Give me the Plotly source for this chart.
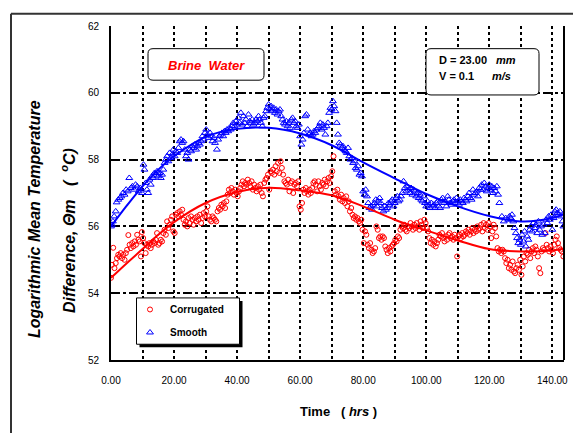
import plotly.graph_objects as go

# ---------------- data ----------------
smooth_x = [0.0, 0.3, 0.6, 1.0, 1.5, 1.8, 2.3, 2.8, 3.3, 3.8, 4.3, 4.8, 5.3, 5.8, 6.3, 6.8, 7.3, 7.8, 8.3, 8.8,
            9.3, 9.8, 10.3, 10.6, 11.0, 11.4, 11.8, 12.2, 12.6, 13.0, 13.4, 13.8, 14.2, 14.6, 15.0, 15.4, 15.8, 16.2,
            16.6, 17.0, 17.4, 17.8, 18.2, 18.6, 19.0, 19.4, 19.8, 20.2, 20.6, 21.0, 21.4, 21.8, 22.2, 22.6, 23.0,
            23.4, 23.8, 24.2, 24.6, 25.0, 25.4, 25.8, 26.2, 26.6, 27.0, 27.4, 27.8, 28.2, 28.6, 29.0, 29.4, 29.8,
            30.2, 30.6, 31.0, 31.4, 31.8, 32.2, 32.6, 33.0, 33.6, 34.0, 34.4, 34.8, 35.2, 35.6, 36.0, 36.4, 36.8,
            37.2, 37.6, 38.0, 38.4, 38.8, 39.2, 39.6, 40.0, 40.4, 40.8, 41.2, 41.6, 42.0, 42.4, 42.8, 43.2, 43.6,
            44.0, 44.4, 44.8, 45.2, 45.6, 46.0, 46.4, 46.8, 47.2, 47.6, 48.0, 48.4, 48.8, 49.2, 49.6, 50.0, 50.4,
            50.8, 51.2, 51.6, 52.0, 52.4, 52.8, 53.2, 53.6, 54.0, 54.4, 54.8, 55.2, 55.6, 56.0, 56.4, 56.8, 57.2,
            57.6, 58.0, 58.4, 58.8, 59.2, 59.6, 60.0, 60.4, 60.8, 61.2, 61.6, 62.0, 62.4, 62.8, 63.2, 63.6, 64.0,
            64.4, 64.8, 65.2, 65.6, 66.0, 66.4, 66.8, 67.2, 67.6, 68.0, 68.4, 68.8, 69.2, 69.6, 70.0, 70.4, 70.8,
            71.2, 71.6, 72.0, 72.4, 72.8, 73.2, 73.6, 74.0, 74.4, 74.8, 75.2, 75.6, 76.0, 76.4, 76.8, 77.2, 77.6,
            78.0, 78.4, 78.8, 79.2, 79.6, 80.0, 80.4, 80.8, 81.2, 81.6, 82.0, 82.4, 82.8, 83.2, 83.6, 84.0, 84.4,
            84.8, 85.2, 85.6, 86.0, 86.4, 86.8, 87.2, 87.6, 88.0, 88.4, 88.8, 89.2, 89.6, 90.0, 90.4, 90.8, 91.2,
            91.6, 92.0, 92.4, 92.8, 93.2, 93.6, 94.0, 94.4, 94.8, 95.2, 95.6, 96.0, 96.4, 96.8, 97.2, 97.6, 98.0,
            98.4, 98.8, 99.2, 99.6, 100.0, 100.4, 100.8, 101.2, 101.6, 102.0, 102.4, 102.8, 103.2, 103.6, 104.0,
            104.4, 104.8, 105.2, 105.6, 106.0, 106.4, 106.8, 107.2, 107.6, 108.0, 108.4, 108.8, 109.2, 109.6,
            110.0, 110.4, 110.8, 111.2, 111.6, 112.0, 112.4, 112.8, 113.2, 113.6, 114.0, 114.4, 114.8, 115.2,
            115.6, 116.0, 116.4, 116.8, 117.2, 117.6, 118.0, 118.4, 118.8, 119.2, 119.6, 120.0, 120.4, 120.8,
            121.2, 121.6, 122.0, 122.4, 122.8, 123.2, 124.0, 124.6, 125.2, 126.0, 126.4, 126.8, 127.2, 127.6,
            128.0, 128.4, 128.8, 129.2, 129.6, 130.0, 130.4, 130.8, 131.2, 131.6, 132.0, 132.4, 132.8, 133.2,
            133.6, 134.0, 134.4, 134.8, 135.2, 135.6, 136.0, 136.4, 136.8, 137.2, 137.6, 138.0, 138.4, 138.8,
            139.2, 139.6, 140.0, 140.4, 140.8, 141.2, 141.6, 142.0, 142.4, 142.8, 143.2, 143.5]
smooth_y = [56.0, 56.05, 56.15, 56.3, 56.45, 56.72, 56.8, 56.85, 56.9, 57.0, 56.95, 57.1, 57.05, 57.45, 57.15,
            57.2, 57.1, 57.25, 57.2, 57.05, 57.15, 57.0, 57.85, 57.7, 57.3, 57.1, 57.0, 57.4, 57.25, 57.5, 57.45,
            57.6, 57.55, 57.65, 57.5, 57.6, 57.45, 57.55, 57.7, 57.9, 58.0, 58.1, 57.95, 58.2, 58.05, 58.15, 58.3,
            58.1, 58.25, 58.2, 58.35, 58.55, 58.6, 58.5, 58.55, 58.3, 58.1, 58.2, 58.0, 58.3, 58.25, 58.4, 58.35,
            58.45, 58.3, 58.4, 58.5, 58.45, 58.55, 58.7, 58.6, 58.8, 58.9, 58.75, 58.65, 58.8, 58.7, 58.55, 58.65,
            58.5, 58.3, 58.6, 58.7, 58.75, 58.8, 58.7, 58.85, 58.8, 58.9, 58.85, 58.95, 58.9, 59.0, 59.1, 59.0,
            59.15, 59.05, 59.25, 59.1, 59.4, 59.05, 59.3, 59.1, 59.2, 59.0, 59.35, 59.15, 59.1, 59.2, 59.05, 59.1,
            59.2, 59.15, 59.3, 59.2, 59.1, 59.0, 59.25, 59.3, 59.45, 59.55, 59.65, 59.5, 59.6, 59.45, 59.55, 59.4,
            59.5, 59.35, 59.45, 59.5, 59.3, 59.2, 59.1, 59.05, 59.15, 59.0, 59.1, 58.95, 59.2, 59.25, 59.1, 59.15,
            59.0, 58.95, 59.05, 58.7, 58.45, 58.6, 58.8, 59.3, 59.35, 58.9, 58.75, 58.8, 58.7, 58.75, 58.85, 58.8,
            58.9, 58.95, 59.0, 59.1, 58.9, 59.05, 58.95, 58.75, 59.0, 59.1, 59.4, 59.55, 59.5, 59.75, 59.6, 59.45,
            59.1, 58.75, 58.5, 58.45, 58.35, 58.4, 58.3, 58.25, 58.2, 58.35, 58.1, 58.0, 58.05, 57.9, 57.95, 57.75,
            57.7, 57.8, 57.55, 57.6, 57.5, 57.05, 56.95, 57.1, 56.9, 56.7, 56.55, 56.6, 56.5, 56.65, 56.7, 56.8,
            56.6, 56.75, 56.85, 56.7, 56.55, 56.45, 56.6, 56.5, 56.55, 56.7, 56.65, 56.75, 56.8, 56.6, 56.7, 56.85,
            56.9, 56.75, 56.8, 56.9, 57.0, 57.35, 57.15, 57.05, 57.2, 57.1, 57.0, 57.15, 56.95, 57.1, 57.05, 56.9,
            57.0, 56.85, 56.95, 56.8, 56.75, 56.9, 56.7, 56.6, 56.75, 56.65, 56.55, 56.7, 56.6, 56.65, 56.55, 56.7,
            56.75, 56.6, 56.55, 56.8, 56.85, 56.7, 56.75, 56.6, 56.9, 56.8, 56.7, 56.65, 56.75, 56.8, 56.7, 56.85,
            56.75, 56.65, 56.8, 56.75, 56.7, 56.85, 56.8, 56.75, 56.9, 57.0, 56.85, 56.8, 57.1, 56.95, 57.0, 57.05,
            56.9, 57.15, 57.1, 57.25, 57.1, 57.3, 57.2, 57.05, 57.15, 57.25, 57.1, 57.2, 57.0, 57.15, 57.05, 57.2,
            56.95, 56.7, 56.3, 56.15, 56.25, 56.2, 56.3, 56.25, 56.35, 56.15, 55.95, 55.8, 55.65, 55.5, 55.6,
            55.45, 55.75, 55.55, 55.85, 55.4, 55.7, 55.6, 55.9, 56.0, 55.85, 56.1, 55.95, 56.05, 55.8, 56.15,
            55.9, 56.0, 55.75, 56.05, 55.8, 56.2, 56.1, 56.3, 56.2, 56.35, 55.9, 56.25, 56.45, 56.5, 56.4, 56.35,
            56.45, 56.3, 56.15, 56.0]

corr_x = [0.0, 0.3, 0.7, 1.1, 1.5, 1.9, 2.3, 2.7, 3.1, 3.5, 3.9, 4.3, 4.7, 5.1, 5.5, 5.9, 6.3, 6.7, 7.1, 7.5,
          7.9, 8.3, 8.7, 9.1, 9.5, 9.8, 10.2, 10.6, 11.0, 11.4, 11.8, 12.2, 12.6, 13.0, 13.4, 13.8, 14.2, 14.6,
          15.0, 15.4, 15.8, 16.2, 16.6, 17.0, 17.4, 17.8, 18.2, 18.6, 19.0, 19.4, 19.8, 20.2, 20.6, 21.0, 21.4,
          21.8, 22.2, 22.6, 23.0, 23.4, 23.8, 24.2, 24.6, 25.0, 25.4, 25.8, 26.2, 26.6, 27.0, 27.4, 27.8, 28.2,
          28.6, 29.0, 29.4, 29.8, 30.2, 30.6, 31.0, 31.4, 31.8, 32.2, 32.6, 33.0, 33.4, 33.8, 34.2, 34.6, 35.0,
          35.4, 35.8, 36.2, 36.6, 37.0, 37.4, 37.8, 38.2, 38.6, 39.0, 39.4, 39.8, 40.2, 40.6, 41.0, 41.4, 41.8,
          42.2, 42.6, 43.0, 43.4, 43.8, 44.2, 44.6, 45.0, 45.4, 45.8, 46.2, 46.6, 47.0, 47.4, 47.8, 48.2, 48.6,
          49.0, 49.4, 49.8, 50.2, 50.6, 51.0, 51.4, 51.8, 52.2, 52.6, 53.0, 53.4, 53.8, 54.2, 54.6, 55.0, 55.4,
          55.8, 56.2, 56.6, 57.0, 57.4, 57.8, 58.2, 58.6, 59.0, 59.4, 59.8, 60.2, 60.6, 61.0, 61.4, 61.8, 62.2,
          62.6, 63.0, 63.4, 63.8, 64.2, 64.6, 65.0, 65.4, 65.8, 66.2, 66.6, 67.0, 67.4, 67.8, 68.2, 68.6, 69.0,
          69.4, 69.8, 70.2, 70.6, 71.0, 71.4, 71.8, 72.2, 72.6, 73.0, 73.4, 73.8, 74.2, 74.6, 75.0, 75.4, 75.8,
          76.2, 76.6, 77.0, 77.4, 77.8, 78.2, 78.6, 79.0, 79.4, 79.8, 80.2, 80.6, 81.0, 81.4, 81.8, 82.2, 82.6,
          83.0, 83.4, 83.8, 84.2, 84.6, 85.0, 85.4, 85.8, 86.2, 86.6, 87.0, 87.4, 87.8, 88.2, 88.6, 89.0, 89.4,
          89.8, 90.2, 90.6, 91.0, 91.4, 91.8, 92.2, 92.6, 93.0, 93.4, 93.8, 94.2, 94.6, 95.0, 95.4, 95.8, 96.2,
          96.6, 97.0, 97.4, 97.8, 98.2, 98.6, 99.0, 99.4, 99.8, 100.2, 100.6, 101.0, 101.4, 101.8, 102.2, 102.6,
          103.0, 103.4, 103.8, 104.2, 104.6, 105.0, 105.4, 105.8, 106.2, 106.6, 107.0, 107.4, 107.8, 108.2,
          108.6, 109.0, 109.4, 109.8, 110.2, 110.6, 111.0, 111.4, 111.8, 112.2, 112.6, 113.0, 113.4, 113.8,
          114.2, 114.6, 115.0, 115.4, 115.8, 116.2, 116.6, 117.0, 117.4, 117.8, 118.2, 118.6, 119.0, 119.4,
          119.8, 120.2, 120.6, 121.0, 121.4, 121.8, 122.2, 122.6, 123.0, 123.4, 123.8, 124.2, 124.6, 125.0,
          125.4, 125.8, 126.2, 126.6, 127.0, 127.4, 127.8, 128.2, 128.6, 129.0, 129.4, 129.8, 130.2, 130.6,
          131.0, 131.4, 131.8, 132.2, 132.6, 133.0, 133.4, 133.8, 134.2, 134.6, 135.0, 135.4, 135.8, 136.2,
          136.6, 137.0, 137.4, 137.8, 138.2, 138.6, 139.0, 139.4, 139.8, 140.2, 140.6, 141.0, 141.4, 141.8,
          142.2, 142.6, 143.0, 143.5]
corr_y = [54.46, 54.85, 55.36, 54.75, 54.9, 55.05, 55.15, 55.1, 55.2, 55.05, 55.15, 55.0, 55.2, 55.3, 55.74,
          55.45, 55.35, 55.5, 55.4, 55.55, 55.45, 55.75, 55.6, 55.55, 55.1, 55.83, 55.65, 55.5, 55.2, 55.45, 55.4,
          55.5, 55.35, 55.45, 55.55, 55.5, 55.6, 55.8, 55.45, 55.5, 55.6, 55.55, 55.8, 55.9, 55.75, 56.15, 55.95,
          56.05, 56.2, 56.3, 55.85, 55.8, 56.35, 56.4, 56.3, 56.45, 56.35, 56.5, 56.2, 56.05, 56.15, 56.0, 56.25,
          56.1, 56.3, 56.2, 56.05, 56.25, 56.15, 56.3, 56.2, 56.35, 56.1, 56.25, 56.4, 56.3, 56.45, 56.6, 56.3,
          56.2, 56.15, 56.3, 56.25, 56.2, 56.15, 56.45, 56.55, 56.5, 56.65, 56.6, 56.7, 56.55, 56.75, 56.95, 57.1,
          57.0, 57.15, 57.05, 56.95, 57.1, 57.0, 56.9, 57.05, 57.15, 57.25, 57.35, 57.2, 57.3, 57.25, 57.4, 57.3,
          57.2, 57.35, 57.1, 57.25, 57.15, 57.05, 57.2, 57.1, 57.25, 57.0, 56.9, 57.3, 57.4, 57.45, 57.55, 57.1,
          57.65, 57.6, 57.7, 57.55, 57.8, 57.65, 57.9, 57.6, 57.95, 57.75, 57.55, 57.35, 57.3, 57.25, 57.4, 57.05,
          57.3, 57.35, 57.0, 57.25, 57.3, 57.2, 57.35, 56.6, 56.5, 56.7, 57.1, 57.0, 57.15, 57.05, 56.95, 57.1,
          57.0, 57.15, 57.3, 57.35, 57.25, 57.05, 57.35, 57.2, 57.1, 57.3, 57.25, 57.4, 57.2, 57.35, 57.45, 57.3,
          57.5, 57.65, 58.1, 57.05, 56.95, 57.1, 56.9, 56.8, 56.95, 56.75, 56.85, 56.7, 56.9, 56.6, 56.75, 56.45,
          56.55, 56.35, 56.25, 56.3, 56.2, 56.25, 56.15, 56.1, 56.2, 55.9, 55.5, 55.85, 55.75, 55.45, 55.35,
          55.5, 55.3, 55.2, 55.25, 55.35, 56.0, 55.9, 55.65, 55.7, 55.6, 55.7, 55.65, 55.4, 55.3, 55.2, 55.35,
          55.25, 55.4, 55.45, 55.5, 55.6, 55.55, 55.7, 55.65, 55.9, 56.0, 55.95, 56.05, 55.9, 55.85, 56.0, 55.95,
          56.1, 56.0, 55.9, 56.05, 55.95, 56.1, 56.0, 55.9, 56.15, 56.05, 55.95, 56.2, 56.1, 55.95, 55.85, 55.65,
          55.5, 55.6, 55.45, 55.55, 55.4, 55.5, 55.6, 55.75, 55.7, 55.8, 55.65, 55.55, 55.7, 55.6, 55.75, 55.8,
          55.65, 55.7, 55.6, 55.75, 55.65, 55.1, 55.7, 55.75, 55.65, 55.8, 55.7, 55.75, 55.85, 55.8, 55.9, 55.75,
          55.85, 55.95, 55.8, 55.9, 55.85, 56.0, 55.9, 55.95, 56.05, 55.85, 56.1, 55.95, 56.05, 55.9, 56.1, 56.0,
          55.65, 55.85, 56.05, 55.95, 55.7, 55.35, 55.25, 55.3, 55.2, 55.3, 55.25, 55.05, 54.9, 55.0, 54.75,
          54.85, 54.7, 54.95, 54.65, 54.6, 54.75, 54.85, 54.7, 55.0, 54.55, 54.8, 55.1, 54.95, 55.2, 55.15, 55.3,
          55.05, 55.25, 55.35, 55.2, 55.4, 55.3, 55.1, 54.75, 54.6, 55.25, 55.35, 55.3, 55.8, 55.45, 55.35, 55.25,
          55.4, 55.3, 55.2, 55.45, 55.6, 55.7, 55.5, 55.35, 55.3, 55.25, 55.1]

fit_x = [0, 5, 10, 15, 20, 30, 40, 50, 60, 70, 80, 90, 100, 110, 120, 130, 140, 143.5]
fit_smooth = [56.0, 56.62, 57.2, 57.7, 58.1, 58.68, 58.92, 58.95, 58.78, 58.43, 57.92, 57.44, 56.97, 56.6,
              56.31, 56.15, 56.25, 56.37]
fit_corr = [54.46, 54.9, 55.32, 55.75, 56.13, 56.7, 57.03, 57.16, 57.08, 56.93, 56.6, 56.2, 55.88, 55.58,
            55.32, 55.25, 55.28, 55.33]

x_range = [0, 143.7]
y_range = [52, 62]

# ---------------- layout helpers (screen pixel positions) ----------------
OFF = 8                      # page body margin offset
SW, SH = 581, 434            # screen size
W, H = SW - OFF, SH - OFF    # figure size
L, R, T, B = 111, 564, 21, 360
FONT = "Liberation Sans, Arial, sans-serif"


def px(x):
    return (x - L) / (R - L)


def py(y):
    return (B - y) / (B - T)


def rrect(x0, y0, x1, y1, r):
    X0, X1, Xa, Xb = px(x0), px(x1), px(x0 + r), px(x1 - r)
    Y0, Y1, Ya, Yb = py(y0), py(y1), py(y0 + r), py(y1 - r)
    return (f"M {Xa},{Y0} L {Xb},{Y0} Q {X1},{Y0} {X1},{Ya} L {X1},{Yb} Q {X1},{Y1} {Xb},{Y1} "
            f"L {Xa},{Y1} Q {X0},{Y1} {X0},{Yb} L {X0},{Ya} Q {X0},{Y0} {Xa},{Y0} Z")


fig = go.Figure()
fig.add_trace(go.Scatter(x=corr_x, y=corr_y, mode="markers", name="Corrugated", legendgroup="a",
                         marker=dict(symbol="circle-open", size=5, color="#ff0000", line=dict(width=1))))
fig.add_trace(go.Scatter(x=smooth_x, y=smooth_y, mode="markers", name="Smooth", legendgroup="b",
                         marker=dict(symbol="triangle-up-open", size=6, color="#0000ff", line=dict(width=1))))
fig.add_trace(go.Scatter(x=fit_x, y=fit_corr, mode="lines", line=dict(color="#ff0000", width=2, shape="spline"),
                         showlegend=False, hoverinfo="skip"))
fig.add_trace(go.Scatter(x=fit_x, y=fit_smooth, mode="lines", line=dict(color="#0000ff", width=2, shape="spline"),
                         showlegend=False, hoverinfo="skip"))

shapes = [
    # outer frame
    dict(type="line", xref="paper", yref="paper", x0=px(11), x1=px(581), y0=py(8.5), y1=py(8.5),
         line=dict(color="#333333", width=2)),
    dict(type="line", xref="paper", yref="paper", x0=px(11), x1=px(11), y0=py(8.5), y1=py(434),
         line=dict(color="#333333", width=2)),
    # right edge of plot
    dict(type="line", xref="paper", yref="paper", x0=1, x1=1, y0=0, y1=1, line=dict(color="black", width=2)),
    # text boxes
    dict(type="path", xref="paper", yref="paper", path=rrect(148, 44, 264, 76, 5),
         line=dict(color="black", width=1), fillcolor="white", layer="above"),
    dict(type="path", xref="paper", yref="paper", path=rrect(426, 44, 539, 91, 5),
         line=dict(color="black", width=1), fillcolor="white", layer="above"),
    # legend box with shadow
    dict(type="rect", xref="paper", yref="paper", x0=px(139.5), x1=px(242.5), y0=py(300), y1=py(347),
         line=dict(width=0), fillcolor="black", layer="above"),
    dict(type="rect", xref="paper", yref="paper", x0=px(136.5), x1=px(239.5), y0=py(297), y1=py(344),
         line=dict(color="black", width=1), fillcolor="white", layer="above"),
]

annotations = [
    dict(text="<b><i>Brine\u00a0\u00a0Water</i></b>", x=px(206), y=py(61), xref="paper", yref="paper",
         showarrow=False, font=dict(family=FONT, size=13, color="#ff0000"), xanchor="center", yanchor="middle"),
    dict(text="<b>D = 23.00</b>", x=px(437), y=py(56), xref="paper", yref="paper", showarrow=False,
         font=dict(family=FONT, size=11, color="black"), xanchor="left", yanchor="middle"),
    dict(text="<b><i>mm</i></b>", x=px(494), y=py(56), xref="paper", yref="paper", showarrow=False,
         font=dict(family=FONT, size=11, color="black"), xanchor="left", yanchor="middle"),
    dict(text="<b>V = 0.1</b>", x=px(437), y=py(72), xref="paper", yref="paper", showarrow=False,
         font=dict(family=FONT, size=11, color="black"), xanchor="left", yanchor="middle"),
    dict(text="<b><i>m/s</i></b>", x=px(490), y=py(72), xref="paper", yref="paper", showarrow=False,
         font=dict(family=FONT, size=11, color="black"), xanchor="left", yanchor="middle"),
    dict(text="<b>Time\u00a0\u00a0\u00a0( <i>hrs</i> )</b>", x=px(338), y=py(412), xref="paper", yref="paper",
         showarrow=False, font=dict(family=FONT, size=13, color="black"), xanchor="center", yanchor="middle"),
    dict(text="<b><i>Logarithmic Mean Temperature</i></b>", x=px(34), y=py(217), xref="paper", yref="paper",
         showarrow=False, textangle=-90, font=dict(family=FONT, size=16, color="black"),
         xanchor="center", yanchor="middle"),
    dict(text="<b><i>Difference, \u0398m\u00a0\u00a0\u00a0(\u00a0\u00a0<sup>o</sup>C)</i></b>", x=px(68), y=py(229),
         xref="paper", yref="paper", showarrow=False, textangle=-90,
         font=dict(family=FONT, size=16, color="black"), xanchor="center", yanchor="middle"),
]

fig.update_layout(
    width=W, height=H, autosize=False,
    margin=dict(l=L - OFF, r=SW - R, t=T - OFF, b=SH - B, pad=0),
    paper_bgcolor="white", plot_bgcolor="white",
    font=dict(family=FONT, size=10, color="black"),
    shapes=shapes, annotations=annotations,
    showlegend=True,
    legend=dict(x=px(130), y=py(294), xanchor="left", yanchor="top", bgcolor="rgba(0,0,0,0)",
                borderwidth=0, font=dict(family=FONT, size=10, color="black", weight="bold"),
                tracegroupgap=4, traceorder="grouped", itemwidth=30),
    xaxis=dict(range=x_range, tick0=0, dtick=20, tickformat=".2f", showgrid=True, gridcolor="black",
               gridwidth=2, griddash="dot", zeroline=False, showline=True, linecolor="black", linewidth=2,
               ticks="", ticklabelstandoff=10, tickfont=dict(size=10, family=FONT, color="black"),
               minor=dict(dtick=10, tick0=0, showgrid=True, gridcolor="black", gridwidth=2, griddash="dot",
                          ticks="")),
    yaxis=dict(range=y_range, tick0=52, dtick=2, showgrid=True, gridcolor="black", gridwidth=2,
               griddash="dashdot", zeroline=False, showline=True, linecolor="black", linewidth=2,
               ticks="", ticklabelstandoff=8, tickfont=dict(size=10, family=FONT, color="black")),
)

fig.write_html("out.html")
